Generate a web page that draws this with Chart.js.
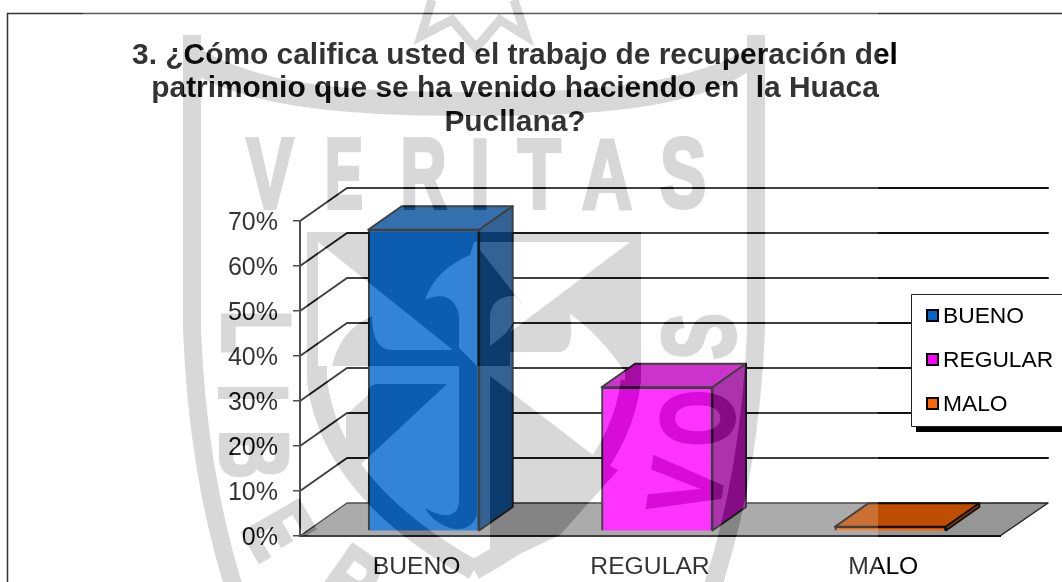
<!DOCTYPE html>
<html><head><meta charset="utf-8">
<style>html,body{margin:0;padding:0;background:#fff}#w{position:relative;width:1062px;height:582px}</style>
<script src="https://cdn.jsdelivr.net/npm/chart.js@4"></script>
</head><body><div id="w"><canvas id="c" width="1062" height="582"></canvas></div>
<script>
const categories = ['BUENO', 'REGULAR', 'MALO'];
const percentages = [67, 32, 1];
const frontColors = ['#0066cc', '#ff00ff', '#ff6600'];
const topColors = ['#004d99', '#bf00bf', '#bf4d00'];
const sideColors = ['#003d7a', '#990099', '#993d00'];
const titleLines = ['3. ¿Cómo califica usted el trabajo de recuperación del', 'patrimonio que se ha venido haciendo en  la Huaca', 'Pucllana?'];
const FONT = '"Liberation Sans", Arial, sans-serif';
const DEPTH = {x: 47, y: -33}, BAR_INSET = {x: 7, y: -4.7}, BAR_DEPTH = {x: 33.5, y: -23.5};
const INK = '#111';

function poly(ctx, pts, fill, stroke, lw) {
  ctx.beginPath(); pts.forEach((p, i) => i ? ctx.lineTo(p[0], p[1]) : ctx.moveTo(p[0], p[1])); ctx.closePath();
  if (fill) { ctx.fillStyle = fill; ctx.fill(); }
  if (stroke) { ctx.strokeStyle = stroke; ctx.lineWidth = lw || 2; ctx.lineJoin = 'round'; ctx.stroke(); }
}

function buildWatermark() {
  const M = document.createElement('canvas'); M.width = 1062; M.height = 582;
  const m = M.getContext('2d');
  m.fillStyle = m.strokeStyle = '#3c3c3c';
  function glyph(ch, cx, cy, w, h, deg) {
    m.save(); m.font = 'bold 100px ' + FONT; m.textAlign = 'left'; m.textBaseline = 'alphabetic';
    const t = m.measureText(ch);
    const gw = t.actualBoundingBoxRight + t.actualBoundingBoxLeft, gh = t.actualBoundingBoxAscent + t.actualBoundingBoxDescent;
    m.translate(cx, cy); m.rotate((deg || 0) * Math.PI / 180); m.scale(w / (gw + 4), h / (gh + 4));
    m.lineWidth = 4; m.lineJoin = 'miter';
    m.fillText(ch, t.actualBoundingBoxLeft - gw / 2, t.actualBoundingBoxAscent - gh / 2);
    m.strokeText(ch, t.actualBoundingBoxLeft - gw / 2, t.actualBoundingBoxAscent - gh / 2);
    m.restore();
  }
  function stroke(w, fn) { m.lineWidth = w; m.lineCap = 'butt'; m.beginPath(); fn(); m.stroke(); }
  function fill(fn) { m.beginPath(); fn(); m.closePath(); m.fill(); }
  // motto letters
  [['V',270,50],['E',344.5,35],['R',425,44],['I',480,14],['T',539.5,45],['A',607,50],['S',682.5,45]]
    .forEach(g => glyph(g[0], g[1], 173.5, g[2], 73));
  glyph('L',257,333,40,71,90); glyph('I',254,393,13,72,90); glyph('B',255,455,45,71,90);
  glyph('E',279,531,38,68,60); glyph('R',352,582,46,66,35);
  glyph('S',699,337,45,77,-90); glyph('O',698,418,53,76,-90); glyph('V',686,487,55,74,-82);
  // outer ring
  stroke(18, () => { m.moveTo(192,35); m.lineTo(192,330); m.quadraticCurveTo(198,480,238,600); });
  stroke(18, () => { m.moveTo(756,35); m.lineTo(756,330); m.quadraticCurveTo(750,480,708,600); });
  fill(() => { m.moveTo(183,67); m.bezierCurveTo(240,105,330,116,474,116); m.bezierCurveTo(620,116,710,105,765,60);
    m.lineTo(765,38); m.bezierCurveTo(700,85,600,92,474,92); m.bezierCurveTo(340,92,250,85,183,38); });
  // star
  stroke(9, () => { m.moveTo(432,0); m.lineTo(421,36); m.lineTo(452,20); m.lineTo(476,48); m.lineTo(500,20); m.lineTo(526,36); m.lineTo(514,0); });
  // inner shield ring
  stroke(20, () => { m.moveTo(317,232); m.lineTo(317,380); m.quadraticCurveTo(330,490,474,570); });
  stroke(20, () => { m.moveTo(631,232); m.lineTo(631,380); m.quadraticCurveTo(618,490,474,570); });
  // upper quarters of the shield
  fill(() => { m.rect(308,232,332,134); });
  m.globalCompositeOperation = 'destination-out';
  fill(() => { m.moveTo(318,242); m.lineTo(453,350); m.lineTo(392,350); m.quadraticCurveTo(372,350,372,316);
    m.quadraticCurveTo(340,330,332,366); m.lineTo(318,366); });
  fill(() => { m.moveTo(425,300); m.quadraticCurveTo(435,270,470,255); m.lineTo(474,242); m.lineTo(477,242); m.lineTo(477,366);
    m.lineTo(459,348); m.lineTo(459,315); m.quadraticCurveTo(452,288,425,300); });
  fill(() => { m.moveTo(630,242); m.lineTo(480,242); m.lineTo(480,250); m.lineTo(523,305); m.lineTo(510,332); });
  fill(() => { m.moveTo(490,346); m.lineTo(490,315); m.quadraticCurveTo(493,295,515,296); m.lineTo(525,308); m.lineTo(505,334); });
  fill(() => { m.moveTo(510,352); m.lineTo(560,352); m.quadraticCurveTo(575,350,570,314);
    m.quadraticCurveTo(600,335,625,372); m.lineTo(625,380); m.lineTo(510,380); });
  m.globalCompositeOperation = 'source-over';
  // lower quarters of the shield
  fill(() => { m.moveTo(447,384); m.lineTo(378,384); m.quadraticCurveTo(368,384,368,395); m.lineTo(346,415); m.lineTo(346,478); });
  fill(() => { m.moveTo(459,366); m.lineTo(477,366); m.lineTo(477,515); m.quadraticCurveTo(470,533,450,528); m.quadraticCurveTo(432,522,425,508);
    m.quadraticCurveTo(445,520,455,512); m.quadraticCurveTo(459,508,459,500); });
  fill(() => { m.moveTo(490,376); m.lineTo(602,462); m.lineTo(618,470); m.lineTo(560,535); m.lineTo(490,568); });
  const O = document.createElement('canvas'); O.width = 1062; O.height = 582;
  const o = O.getContext('2d');
  o.beginPath(); o.rect(83,0,795,582); o.clip();
  o.fillStyle = 'rgba(255,255,255,0.2)'; o.fillRect(0,0,1062,582);
  o.globalCompositeOperation = 'destination-out'; o.drawImage(M,0,0);
  o.globalCompositeOperation = 'source-over'; o.globalAlpha = 0.2; o.drawImage(M,0,0);
  return O;
}
const watermark = buildWatermark();

const scene3d = {
  id: 'scene3d',
  beforeDraw(chart) {
    const c = chart.ctx, y = chart.scales.y, a = chart.chartArea;
    chart.titleBlock.left = 0; chart.titleBlock.right = 1030;
    c.save();
    c.strokeStyle = '#333'; c.lineWidth = 1.5;
    c.beginPath(); c.moveTo(7.5,583); c.lineTo(7.5,13.5); c.lineTo(1062,13.5); c.stroke();
    const backRight = a.right + DEPTH.x + 1;
    const fy = y.getPixelForValue(0);
    poly(c, [[a.left,fy],[a.left+DEPTH.x,fy+DEPTH.y],[backRight,fy+DEPTH.y],[a.right,fy]], '#969696', '#222', 1.5);
    c.strokeStyle = INK; c.lineWidth = 2; c.lineCap = 'round'; c.lineJoin = 'round';
    y.ticks.forEach(t => {
      if (t.value === 0) return;
      const p = y.getPixelForValue(t.value);
      c.beginPath(); c.moveTo(a.left,p); c.lineTo(a.left+DEPTH.x,p+DEPTH.y); c.lineTo(backRight,p+DEPTH.y); c.stroke();
    });
    c.restore();
  },
  beforeDatasetsDraw(chart) { chart.ctx.save(); chart.ctx.translate(BAR_INSET.x, BAR_INSET.y); },
  afterDatasetsDraw(chart) {
    const c = chart.ctx;
    chart.getDatasetMeta(0).data.forEach((el, i) => {
      const l = el.x - el.width / 2, r = el.x + el.width / 2, t = el.y, b = el.base;
      const dx = BAR_DEPTH.x, dy = BAR_DEPTH.y;
      poly(c, [[l,t],[r,t],[r+dx,t+dy],[l+dx,t+dy]], topColors[i], '#111', 2);
      poly(c, [[r,t],[r+dx,t+dy],[r+dx,b+dy],[r,b]], sideColors[i], '#111', 2);
    });
    c.restore();
  },
  afterDraw(chart) {
    const c = chart.ctx;
    c.save();
    // legend
    c.fillStyle = '#000'; c.fillRect(916,421,146,11);
    c.fillStyle = '#fff'; c.fillRect(911,294,151,132);
    c.strokeStyle = '#222'; c.lineWidth = 1;
    c.beginPath(); c.moveTo(1062,294.5); c.lineTo(911.5,294.5); c.lineTo(911.5,426.5); c.lineTo(1062,426.5); c.stroke();
    c.font = '22.8px ' + FONT; c.textAlign = 'left'; c.textBaseline = 'middle';
    categories.forEach((name, i) => {
      const yc = 316 + i * 44;
      c.fillStyle = frontColors[i]; c.fillRect(927,yc-6,11,11);
      c.strokeStyle = '#000'; c.lineWidth = 2; c.strokeRect(927,yc-6,11,11);
      c.fillStyle = '#000'; c.fillText(name,943,yc+1);
    });
    c.drawImage(watermark,0,0);
    c.restore();
  }
};

new Chart(document.getElementById('c'), {
  type: 'bar',
  plugins: [scene3d],
  data: { labels: categories, datasets: [{
    data: percentages, backgroundColor: frontColors, borderColor: '#111', borderWidth: 2,
    barThickness: 111
  }]},
  options: {
    responsive: false, animation: false,
    layout: { padding: { left: 228, right: 62, top: 0, bottom: 0 } },
    plugins: {
      legend: { display: false }, tooltip: { enabled: false },
      title: { display: true, text: titleLines, color: '#000', position: 'top',
        font: { family: FONT, size: 29.9, weight: 'bold', lineHeight: '33.5px' },
        padding: { top: 39, bottom: 81.5 } }
    },
    scales: {
      x: { grid: { display: false }, border: { display: true, color: '#111', width: 2 },
        afterFit: s => { s.height = 46; },
        ticks: { color: '#000', font: { family: FONT, size: 24.7 }, padding: 8, maxRotation: 0 } },
      y: { min: 0, max: 70, afterFit: s => { s.width = 72; },
        grid: { drawOnChartArea: false, tickLength: 7, color: '#222', lineWidth: 1.5 },
        border: { display: true, color: '#222', width: 2 },
        ticks: { stepSize: 10, color: '#000', font: { family: FONT, size: 25 }, padding: 15, labelOffset: 2, callback: v => v + '%' } }
    }
  }
});
</script></body></html>
